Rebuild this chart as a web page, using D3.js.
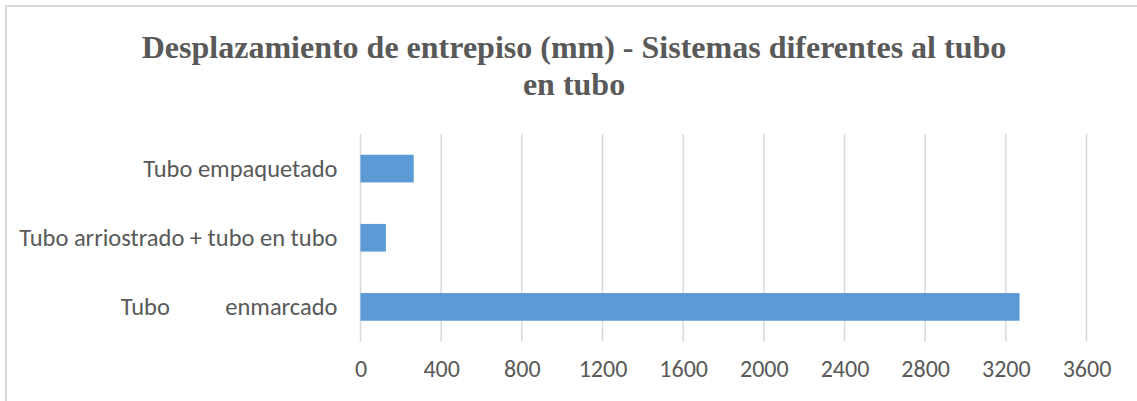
<!DOCTYPE html>
<html>
<head>
<meta charset="utf-8">
<script src="https://cdn.jsdelivr.net/npm/d3@7"></script>
<style>
  html, body { margin: 0; padding: 0; background: #fff; }
  svg { display: block; }
  .cat text, .tick text { white-space: pre; }
</style>
</head>
<body>
<svg id="chart" width="1137" height="401"></svg>
<script>
// Floor displacement (mm) per structural system
const categories = ["Tubo empaquetado", "Tubo arriostrado + tubo en tubo", "Tubo          enmarcado"];
const values = [264, 126, 3268];
const xTicks = [0, 400, 800, 1200, 1600, 2000, 2400, 2800, 3200, 3600];
const titleLines = ["Desplazamiento de entrepiso (mm) - Sistemas diferentes al tubo", "en tubo"];

const W = 1137, H = 401;
const margin = { top: 134, right: 50.5, bottom: 59.5, left: 360.5 };
const svg = d3.select("#chart");

const labelFont = "Carlito, Calibri, Lato, 'Liberation Sans', sans-serif";
const textColor = "#595959";

// chart frame
svg.append("rect")
  .attr("x", 6).attr("y", 6)
  .attr("width", W + 10).attr("height", H + 10)
  .attr("fill", "#fff")
  .attr("stroke", "#d9d9d9").attr("stroke-width", 2);

// title
svg.append("g").selectAll("text")
  .data(titleLines)
  .join("text")
  .attr("x", 574)
  .attr("y", (d, i) => 58 + i * 37)
  .attr("text-anchor", "middle")
  .attr("font-family", "'Liberation Serif', 'Times New Roman', serif")
  .attr("font-weight", "bold")
  .attr("font-size", 32)
  .attr("fill", textColor)
  .text(d => d);

const x = d3.scaleLinear()
  .domain([0, 3600])
  .range([margin.left, W - margin.right]);

const y = d3.scaleBand()
  .domain(categories)
  .range([margin.top, H - margin.bottom])
  .paddingInner(0.6)
  .paddingOuter(0.3);

// vertical gridlines
svg.append("g").selectAll("line")
  .data(xTicks)
  .join("line")
  .attr("x1", d => x(d)).attr("x2", d => x(d))
  .attr("y1", margin.top).attr("y2", H - margin.bottom)
  .attr("stroke", "#d9d9d9")
  .attr("stroke-width", 1.5);

// bars
svg.append("g").selectAll("rect")
  .data(categories.map((c, i) => ({ c, v: values[i] })))
  .join("rect")
  .attr("x", x(0))
  .attr("y", d => y(d.c))
  .attr("width", d => x(d.v) - x(0))
  .attr("height", y.bandwidth())
  .attr("fill", "#5b9bd5");

// category axis
const yAxis = svg.append("g")
  .attr("class", "cat")
  .attr("transform", `translate(${margin.left - 23},0)`)
  .call(d3.axisLeft(y).tickSize(0).tickPadding(0));
yAxis.select(".domain").remove();
yAxis.selectAll("text")
  .attr("font-family", labelFont)
  .attr("font-size", 24.5)
  .attr("fill", textColor)
  .attr("dy", "0.35em");

// value axis
const xAxis = svg.append("g")
  .attr("transform", `translate(0,${H - margin.bottom})`)
  .call(d3.axisBottom(x).tickValues(xTicks).tickSize(0).tickPadding(18).tickFormat(d3.format("d")));
xAxis.select(".domain").remove();
xAxis.selectAll("text")
  .attr("font-family", labelFont)
  .attr("font-size", 24)
  .attr("fill", textColor);
</script>
</body>
</html>
